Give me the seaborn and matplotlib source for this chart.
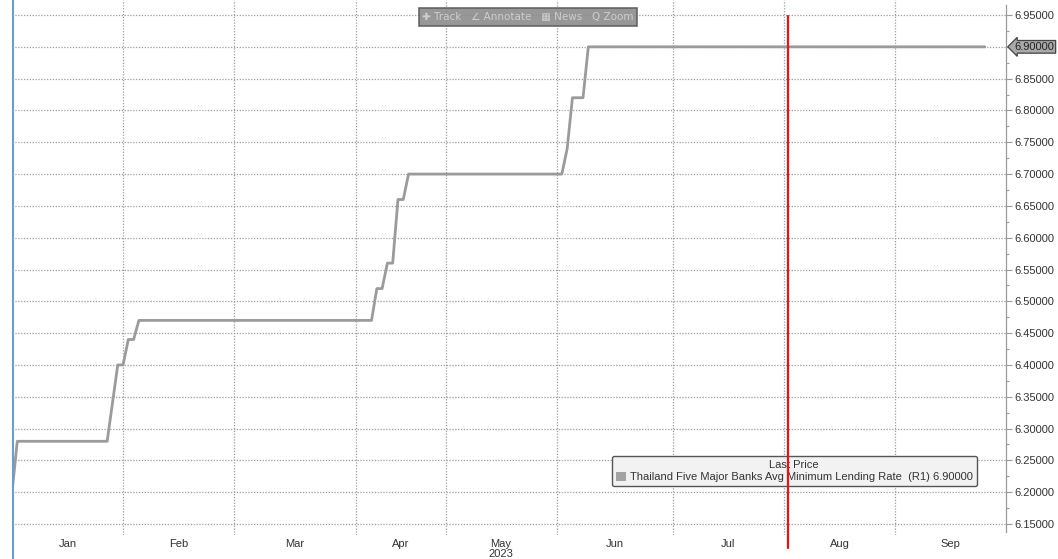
import matplotlib
matplotlib.use("Agg")
import matplotlib.pyplot as plt
import matplotlib.transforms as mtransforms
from matplotlib.patches import Patch
from matplotlib.lines import Line2D
from matplotlib.ticker import FixedLocator, FuncFormatter, MultipleLocator
import pandas as pd
import seaborn as sns

# Data: x is the trading-session index counted from the first session of 2023
session = [0, 1, 18, 20, 21, 22, 23, 24, 68, 69, 70, 71, 72, 73, 74, 75,
           104, 105, 106, 108, 109, 184]
rate = [6.20, 6.28, 6.28, 6.40, 6.40, 6.44, 6.44, 6.47, 6.47, 6.52, 6.52, 6.56,
        6.56, 6.66, 6.66, 6.70, 6.70, 6.74, 6.82, 6.82, 6.90, 6.90]

months = ['Jan', 'Feb', 'Mar', 'Apr', 'May', 'Jun', 'Jul', 'Aug', 'Sep']
sessions_per_month = [21, 21, 23, 17, 21, 22, 21, 21, 21]
marker_session = 146.7
last_price = 6.90
series_name = 'Thailand Five Major Banks Avg Minimum Lending Rate  (R1) 6.90000'

df = pd.DataFrame({'session': session, 'rate': rate})

bounds = [0]
for n in sessions_per_month:
    bounds.append(bounds[-1] + n)
centers = [(a + b) / 2 for a, b in zip(bounds[:-1], bounds[1:])]

sns.set_style("white")
plt.rcParams['font.family'] = ['Liberation Sans', 'DejaVu Sans']

W, H = 1058, 559
fig = plt.figure(figsize=(W / 100, H / 100), dpi=100)
ax = fig.add_axes([12 / W, 24 / H, 994 / W, 535 / H])

grid_kw = dict(color='#9c9c9c', linestyle=(0, (1, 1.3)), linewidth=0.9)

# line
sns.lineplot(data=df, x='session', y='rate', ax=ax, color='#9b9b9b',
             linewidth=2.0, zorder=3)

ax.set_xlim(bounds[0], bounds[-1])
ax.set_ylim(6.1327, 6.9736)

# x axis: gridlines at month boundaries, labels at month centres
ax.xaxis.set_major_locator(FixedLocator(bounds[1:-1]))
ax.xaxis.set_major_formatter(FuncFormatter(lambda v, p: ''))
ax.set_xticks(centers, months, minor=True)
ax.tick_params(axis='x', which='both', length=0, pad=3, labelsize=8,
               labelcolor='#333333')
ax.xaxis.grid(True, which='major', **grid_kw)
ax.text(centers[4], -0.026, '2023', transform=ax.get_xaxis_transform(),
        ha='center', va='top', fontsize=8, color='#333333')

# y axis on the right
ax.yaxis.tick_right()
ax.yaxis.set_major_locator(MultipleLocator(0.05))
ax.yaxis.set_minor_locator(MultipleLocator(0.025))
ax.yaxis.set_major_formatter(
    FuncFormatter(lambda v, p: '' if abs(v - last_price) < 1e-6 else f'{v:.5f}'))
ax.tick_params(axis='y', which='major', length=4, width=0.8, color='#9a9a9a',
               pad=2, labelsize=8, labelcolor='#333333')
ax.tick_params(axis='y', which='minor', length=2.5, width=0.8, color='#9a9a9a')
ax.yaxis.grid(True, which='major', **grid_kw)
ax.set_xlabel('')
ax.set_ylabel('')

for s in ['top', 'left', 'bottom']:
    ax.spines[s].set_visible(False)
ax.spines['right'].set_color('#9a9a9a')
ax.spines['right'].set_linewidth(0.9)
ax.spines['right'].set_bounds(6.138, 6.965)

# red marker line
ax.axvline(marker_session, ymin=-0.025, ymax=0.971, color='#ee1111',
           linewidth=1.6, clip_on=False, zorder=6)

# last price tag
tr = mtransforms.blended_transform_factory(ax.transAxes, ax.transData)
ax.text(1.0085, last_price, f'{last_price:.5f}', transform=tr, ha='left',
        va='center', fontsize=8, color='#222222', zorder=7,
        bbox=dict(boxstyle='larrow,pad=0.12', fc='#a9a9a9', ec='#444444', lw=0.9))

# legend
handle = Patch(facecolor='#a3a3a3', edgecolor='none')
leg = ax.legend([handle], [series_name], title='Last Price', loc='center',
                bbox_to_anchor=(0.787, 0.1196), fontsize=8, title_fontsize=8,
                handlelength=0.9, handleheight=0.9, handletextpad=0.4,
                borderpad=0.35, labelspacing=0.2, frameon=True, fancybox=True,
                framealpha=1)
leg.get_frame().set_facecolor('#f2f2f2')
leg.get_frame().set_edgecolor('#555555')
leg.get_frame().set_linewidth(1.0)
leg.get_title().set_color('#333333')
for t in leg.get_texts():
    t.set_color('#333333')
leg.set_zorder(5)

# left blue edge
fig.add_artist(Line2D([12.5 / W, 12.5 / W], [0, 1], transform=fig.transFigure,
                      color='#6f9bd0', linewidth=1.5))

# toolbar overlay
fig.text(528 / W, 1 - 17 / H, '\u271a Track   \u2220 Annotate   \u25a6 News   Q Zoom',
         ha='center', va='center', fontsize=7.5, color='#cfcfcf',
         family=['DejaVu Sans'],
         bbox=dict(boxstyle='square,pad=0.35', fc='#8c8c8c', ec='#5a5a5a',
                   lw=1.2, alpha=0.9))

fig.savefig('out.png', dpi=100)
